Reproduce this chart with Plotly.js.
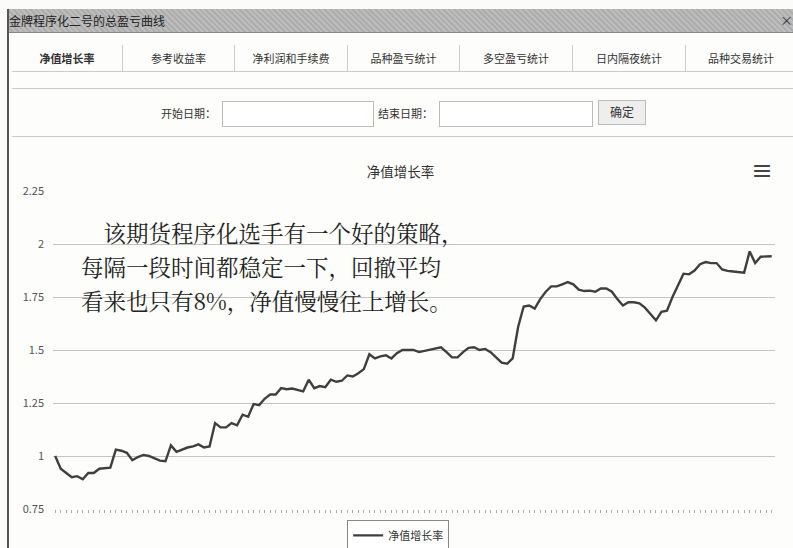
<!DOCTYPE html>
<html><head><meta charset="utf-8">
<script src="https://cdn.plot.ly/plotly-3.0.1.min.js"></script>
<style>
html,body{margin:0;padding:0;background:#fbfbf9;width:793px;height:548px;overflow:hidden;font-family:"Noto Sans CJK SC","Noto Sans",sans-serif;}
#win{position:absolute;left:7px;top:9px;width:790px;height:545px;border-left:2px solid #555;background:#fdfdfb;}
#bar{position:absolute;left:0;top:0;width:786px;height:23px;background:repeating-linear-gradient(45deg,#bdbdbd 0 2px,#adadad 2px 4px);border-bottom:1px solid #888;}
#bar span{position:absolute;left:0;top:3px;font-size:12px;color:#222;}
#bar b{position:absolute;right:2px;top:1px;font-size:13px;color:#333;font-weight:normal;}
#tabs{position:absolute;left:3px;top:36px;height:26px;width:784px;border-bottom:1px solid #ccc;}
.tab{position:absolute;top:0;height:26px;line-height:26px;text-align:center;font-size:11px;color:#333;border-right:1px solid #ccc;box-sizing:border-box;}
#sep1{position:absolute;left:3px;top:79px;width:784px;border-top:1px solid #ccc;}
#sep2{position:absolute;left:3px;top:127px;width:784px;border-top:1px solid #ccc;}
.lbl{position:absolute;font-size:11px;color:#333;}
.inp{position:absolute;border:1px solid #bbb;background:#fff;height:24px;}
.btn{position:absolute;border:1px solid #bbb;background:#eee;font-size:12px;color:#333;text-align:center;line-height:22px;}
#chart{position:absolute;left:8px;top:140px;width:785px;height:408px;}
</style></head>
<body>
<div id="win">
 <div id="bar"><span>金牌程序化二号的总盈亏曲线</span><b>×</b></div>
 <div id="tabs">
  <div class="tab" style="left:0;width:111px;font-weight:bold;">净值增长率</div>
  <div class="tab" style="left:111px;width:112px;">参考收益率</div>
  <div class="tab" style="left:223px;width:113px;">净利润和手续费</div>
  <div class="tab" style="left:336px;width:112px;">品种盈亏统计</div>
  <div class="tab" style="left:448px;width:113px;">多空盈亏统计</div>
  <div class="tab" style="left:561px;width:113px;">日内隔夜统计</div>
  <div class="tab" style="left:674px;width:110px;border-right:none;">品种交易统计</div>
 </div>
 <div id="sep1"></div>
 <div class="lbl" style="left:152px;top:96px;">开始日期：</div>
 <div class="inp" style="left:213px;top:92px;width:150px;"></div>
 <div class="lbl" style="left:369px;top:96px;">结束日期：</div>
 <div class="inp" style="left:430px;top:92px;width:152px;"></div>
 <div class="btn" style="left:589px;top:91px;width:46px;height:23px;">确定</div>
 <div id="sep2"></div>
</div>
<div id="chart"></div>
<script>
const chartTitle = "净值增长率";
const seriesName = "净值增长率";
const yTicks = [0.75, 1, 1.25, 1.5, 1.75, 2, 2.25];
const yTickLabels = ["0.75", "1", "1.25", "1.5", "1.75", "2", "2.25"];
const noteLines = ["　该期货程序化选手有一个好的策略，", "每隔一段时间都稳定一下，回撤平均", "看来也只有8%，净值慢慢往上增长。"];
const netValue = [
 1.00,0.94,0.92,0.90,0.905,0.89,0.92,0.92,0.94,0.943,
 0.945,1.03,1.025,1.015,0.98,0.995,1.005,1.0,0.99,0.978,
 0.975,1.05,1.02,1.03,1.04,1.045,1.055,1.04,1.045,1.155,
 1.135,1.135,1.155,1.145,1.195,1.185,1.245,1.24,1.27,1.29,
 1.29,1.32,1.315,1.318,1.31,1.305,1.36,1.32,1.33,1.325,
 1.36,1.35,1.355,1.38,1.375,1.39,1.41,1.48,1.46,1.47,
 1.475,1.46,1.485,1.50,1.50,1.50,1.49,1.495,1.502,1.505,
 1.513,1.49,1.465,1.465,1.49,1.51,1.513,1.50,1.505,1.49,
 1.465,1.44,1.435,1.46,1.61,1.705,1.71,1.695,1.74,1.775,
 1.80,1.80,1.81,1.82,1.81,1.785,1.778,1.78,1.775,1.79,
 1.79,1.775,1.74,1.71,1.725,1.725,1.72,1.70,1.67,1.64,
 1.68,1.685,1.75,1.805,1.86,1.857,1.875,1.905,1.915,1.91,
 1.91,1.88,1.873,1.87,1.868,1.865,1.965,1.91,1.94,1.94,1.942
];
const periods = netValue.map((_, i) => i + 1);

const trace = {
  x: periods, y: netValue, type: "scatter", mode: "lines", name: seriesName,
  line: {color: "#3f3f3f", width: 2.4}, hoverinfo: "x+y"
};
const noteY = [0.871, 0.764, 0.657];
const annotations = noteLines.map((t, k) => ({
  xref: "paper", yref: "paper", x: 0.036, y: noteY[k], xanchor: "left", yanchor: "middle",
  text: t, showarrow: false,
  font: {family: "Noto Serif CJK SC, Noto Sans CJK SC, serif", size: 22.5, color: "#222"}
}));
annotations.push({xref: "paper", yref: "paper", x: 1.0, y: 1.068, xanchor: "right", yanchor: "middle",
  text: "<b>≡</b>", showarrow: false, font: {size: 22, color: "#444"}});

const layout = {
  width: 785, height: 408,
  margin: {l: 45, r: 18, t: 51, b: 39},
  paper_bgcolor: "rgba(0,0,0,0)", plot_bgcolor: "rgba(0,0,0,0)",
  font: {family: "Noto Sans CJK SC, Noto Sans, sans-serif", color: "#444"},
  title: {text: chartTitle, x: 0.5, xanchor: "center", y: 0.922, yanchor: "middle", font: {size: 13.5, color: "#333"}},
  xaxis: {range: [0.6, periods.length + 0.6], showgrid: false, zeroline: false, showline: false,
    showticklabels: false, ticks: "outside", tickmode: "linear", tick0: 1, dtick: 1, ticklen: 3, tickcolor: "#aaa", tickwidth: 1},
  yaxis: {range: [0.75, 2.25], tickmode: "array", tickvals: yTicks, ticktext: yTickLabels,
    showgrid: true, gridcolor: "#c4c4c4", gridwidth: 1, zeroline: false, showline: false,
    ticks: "", ticklabelstandoff: 8, tickfont: {size: 11, color: "#555"}},
  showlegend: true,
  legend: {orientation: "h", xref: "container", yref: "container", x: 0.497, xanchor: "center", y: 0.069, yanchor: "top",
    bordercolor: "#888", borderwidth: 1, bgcolor: "#fff", font: {size: 11, color: "#333"}},
  annotations: annotations
};
Plotly.newPlot("chart", [trace], layout, {displayModeBar: false, responsive: false});
</script>
</body></html>
